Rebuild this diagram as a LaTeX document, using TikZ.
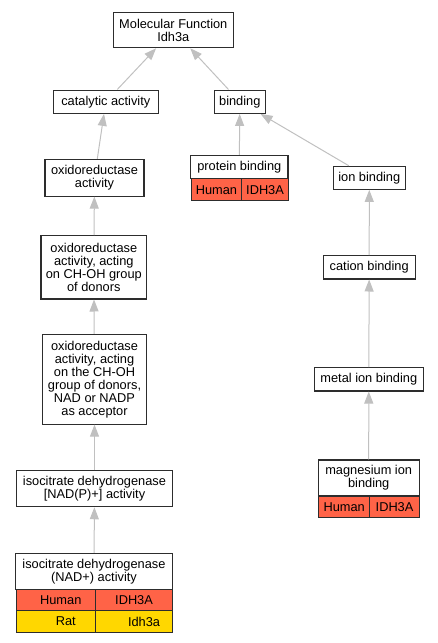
\documentclass[tikz,border=0pt]{standalone}
\usepackage{fontspec}
\setmainfont{Liberation Sans}
\usepackage{tikz}
\usetikzlibrary{arrows.meta}
\definecolor{humanred}{RGB}{255,99,71}
\definecolor{ratgold}{RGB}{255,215,0}
\definecolor{edgegray}{RGB}{192,192,192}
\definecolor{boxline}{RGB}{45,45,45}

\begin{document}
\begin{tikzpicture}[x=1pt,y=-1pt]\tikzstyle{every node}=[font=\fontsize{12.8}{13}\selectfont, inner sep=0pt, align=center]
   \tikzstyle{term}=[draw=boxline, line width=1.1pt, fill=white]
   \tikzstyle{cell}=[draw=boxline, line width=1.1pt, anchor=north west]
   \tikzstyle{isa}=[draw=edgegray, line width=1pt, -{Triangle[length=12pt,width=9pt]}]

   \useasboundingbox (0,0) rectangle (437,643);

   % Terms
    \node[term, minimum width=120, minimum height=35.4] (mf) at (173.3,30) {Molecular Function\\Idh3a};
    \node[term, minimum width=105, minimum height=23.3] (cat) at (105.8,101.7) {catalytic activity};
    \node[term, minimum width=51, minimum height=23.3] (bind) at (239.8,101.7) {binding};
    \node[term, minimum width=99, minimum height=36.7] (oxa) at (94.5,177.7) {oxidoreductase\\activity};
    \node[term, minimum width=72, minimum height=23] (ion) at (369.3,177.8) {ion binding};
    \node[term, minimum width=105.7, minimum height=63.3] (oxch) at (93.8,267.3) {oxidoreductase\\activity, acting\\on CH-OH group\\of donors};
    \node[term, minimum width=91.7, minimum height=23.3] (cation) at (369.2,267.3) {cation binding};
    \node[term, minimum width=104.4, minimum height=89.7] (oxnad) at (94.5,379.2) {oxidoreductase\\activity, acting\\on the CH-OH\\group of donors,\\NAD or NADP\\as acceptor};
    \node[term, minimum width=109, minimum height=23.3] (metal) at (368.8,379.3) {metal ion binding};
    \node[term, minimum width=155.6, minimum height=36] (icdp) at (94.5,488.7) {isocitrate dehydrogenase\\{[NAD(P)+]} activity};

   % Terms with annotations
    \node[term, minimum width=97.3, minimum height=23] (pb) at (239.3,166.8) {protein binding};
    \node[cell, fill=humanred, minimum width=50.3, minimum height=21.7] (pbh) at (190.7,178.3) {Human};
    \node[cell, fill=humanred, minimum width=47, minimum height=21.7] (pbg) at (241,178.3) {IDH3A};

    \node[term, minimum width=100.7, minimum height=35.7] (mg) at (368.7,477.8) {magnesium ion\\binding};
    \node[cell, fill=humanred, minimum width=50.7, minimum height=21.6] (mgh) at (318.3,495.7) {Human};
    \node[cell, fill=humanred, minimum width=50, minimum height=21.6] (mgg) at (369,495.7) {IDH3A};

    \node[term, minimum width=156.6, minimum height=35.7] (icdn) at (94,571.2) {isocitrate dehydrogenase\\(NAD+) activity};
    \node[cell, fill=humanred, minimum width=79, minimum height=21] (icdnh) at (15.7,589) {\hspace*{10pt}Human};
    \node[cell, fill=humanred, minimum width=77.6, minimum height=21] (icdng) at (94.7,589) {IDH3A};
    \node[cell, fill=ratgold, minimum width=79, minimum height=22] (icdnr) at (15.7,610) {\hspace*{20pt}Rat};
    \node[cell, fill=ratgold, minimum width=77.6, minimum height=22] (icdnrg) at (94.7,610) {\hspace*{20pt}Idh3a};

   % Is-a edges
    \foreach \a/\b in {cat/mf, bind/mf, oxa/cat, pb/bind, ion/bind, oxch/oxa, cation/ion,
                       oxnad/oxch, metal/cation, icdp/oxnad, mg/metal, icdn/icdp}
      \draw[isa] (\a) -- (\b);

\end{tikzpicture}
\end{document}
